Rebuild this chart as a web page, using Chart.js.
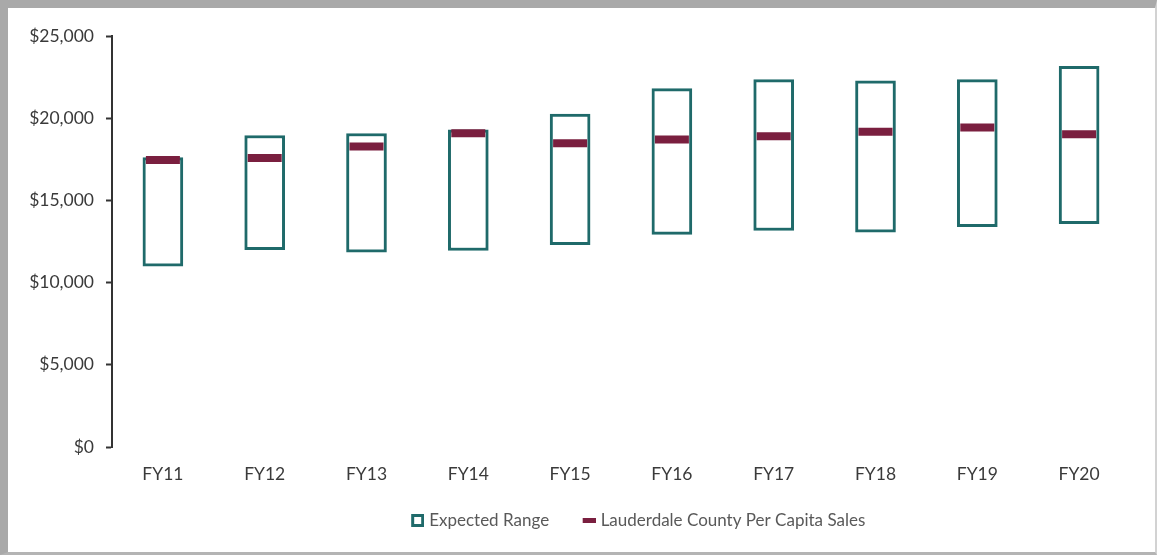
<!DOCTYPE html>
<html>
<head>
<meta charset="utf-8">
<script src="https://cdn.jsdelivr.net/npm/chart.js@4/dist/chart.umd.min.js"></script>
<style>
  html, body { margin: 0; padding: 0; background: #fff; }
  #frame {
    width: 1157px; height: 555px; box-sizing: border-box;
    border-top: 8px solid #a9a9a9; border-left: 8px solid #a9a9a9;
    border-right: 2px solid #d2d2d2; border-bottom: 3px solid #b4b4b4;
    background: #fff;
  }
  #chart { display: block; }
</style>
</head>
<body>
<div id="frame"><canvas id="chart" width="1147" height="544"></canvas></div>
<script>
// Chart data
const years = ['FY11', 'FY12', 'FY13', 'FY14', 'FY15', 'FY16', 'FY17', 'FY18', 'FY19', 'FY20'];
const rangeLow  = [11000, 12000, 11850, 11950, 12300, 12930, 13170, 13070, 13400, 13580];
const rangeHigh = [17600, 18950, 19070, 19300, 20250, 21800, 22350, 22280, 22350, 23150];
const countySales = [17450, 17580, 18280, 19080, 18480, 18700, 18900, 19180, 19440, 19030];
const yTicks = [0, 5000, 10000, 15000, 20000, 25000];

const teal = '#1f6a6a';
const maroon = '#7a1f3f';
const legendShift = 6;

// small legend icons (left part left transparent for spacing)
function makeIcon(w, h, draw) {
    const c = document.createElement('canvas');
    c.width = w; c.height = h;
    draw(c.getContext('2d'));
    return c;
}
const rangeIcon = makeIcon(39, 13, ctx => {
    ctx.strokeStyle = teal;
    ctx.lineWidth = 3;
    ctx.strokeRect(27.5, 1.5, 10, 10);
});
const salesIcon = makeIcon(39, 5, ctx => {
    ctx.fillStyle = maroon;
    ctx.fillRect(26, 0, 13, 5);
});

// nudge the legend row sideways
const legendNudge = {
    id: 'legendNudge',
    afterLayout(chart) {
        chart.legend.left += legendShift;
        chart.legend.right += legendShift;
    }
};

const ctx = document.getElementById('chart').getContext('2d');
new Chart(ctx, {
    data: {
        labels: years,
        datasets: [{
            type: 'line',
            label: 'Lauderdale County Per Capita Sales',
            data: countySales,
            showLine: false,
            pointStyle: 'line',
            pointRadius: 17,
            pointHoverRadius: 17,
            pointBorderWidth: 8,
            pointHoverBorderWidth: 8,
            borderColor: maroon,
            order: 0
        }, {
            type: 'bar',
            label: 'Expected Range',
            data: years.map((y, i) => [rangeLow[i], rangeHigh[i]]),
            backgroundColor: '#ffffff',
            borderColor: teal,
            borderWidth: 3,
            borderSkipped: false,
            barThickness: 40,
            order: 1
        }]
    },
    plugins: [legendNudge],
    options: {
        responsive: false,
        animation: false,
        layout: {
            padding: { top: 28, right: 19, bottom: 13, left: 0 }
        },
        plugins: {
            tooltip: { enabled: false },
            legend: {
                position: 'bottom',
                fullSize: false,
                labels: {
                    font: { family: 'Lato', size: 17 },
                    color: '#595959',
                    usePointStyle: true,
                    pointStyleWidth: 32,
                    boxHeight: 13,
                    padding: 11,
                    generateLabels: () => [
                        { text: 'Expected Range', pointStyle: rangeIcon, fontColor: '#595959', datasetIndex: 1 },
                        { text: 'Lauderdale County Per Capita Sales', pointStyle: salesIcon, fontColor: '#595959', datasetIndex: 0 }
                    ]
                }
            }
        },
        scales: {
            x: {
                grid: { display: false, drawTicks: false },
                border: { display: false },
                ticks: {
                    font: { family: 'Lato', size: 17.5 },
                    color: '#3a3a3a',
                    padding: 16.5
                }
            },
            y: {
                min: 0,
                max: 25000,
                afterFit: scale => { scale.width = 104; },
                afterBuildTicks: scale => { scale.ticks = yTicks.map(v => ({ value: v })); },
                grid: {
                    drawOnChartArea: false,
                    tickLength: 6,
                    tickWidth: 2,
                    tickColor: '#333333'
                },
                border: { color: '#333333', width: 2 },
                ticks: {
                    font: { family: 'Lato', size: 17.5 },
                    color: '#3a3a3a',
                    padding: 12,
                    callback: v => '$' + v.toLocaleString('en-US')
                }
            }
        }
    }
});
</script>
</body>
</html>
